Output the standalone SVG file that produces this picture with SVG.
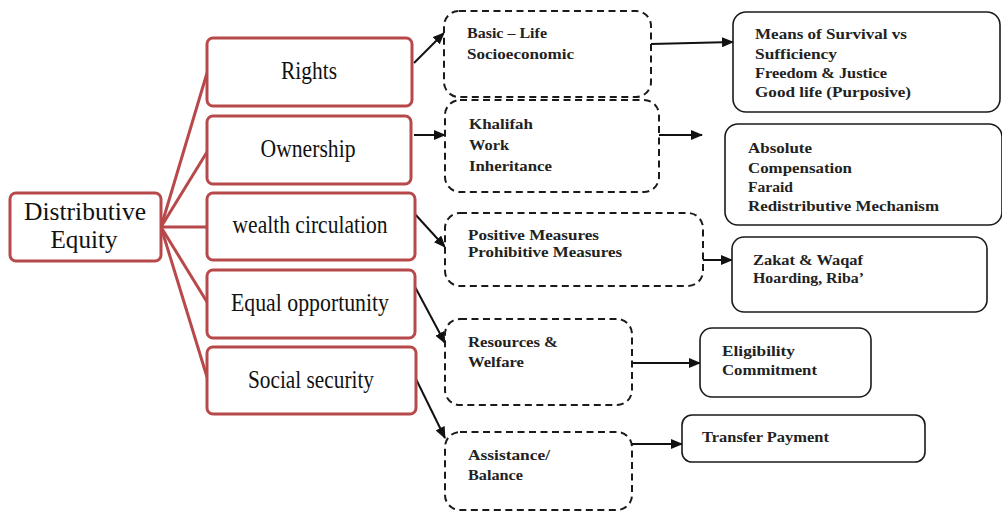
<svg xmlns="http://www.w3.org/2000/svg" width="1002" height="511" viewBox="0 0 1002 511">
<defs>
<style>
.red{fill:#fff;stroke:#b8494a;stroke-width:3}
.dash{fill:#fff;stroke:#1a1a1a;stroke-width:2;stroke-dasharray:7 4.5}
.solid{fill:#fff;stroke:#1a1a1a;stroke-width:1.6}
.rt{font-family:"Liberation Serif",serif;font-size:25px;fill:#111}
.bt{font-family:"Liberation Serif",serif;font-size:15px;font-weight:bold;fill:#222}
.rl{stroke:#b8494a;stroke-width:3;fill:none}
.ar{stroke:#111;stroke-width:2;fill:none;marker-end:url(#ah)}
</style>
<marker id="ah" markerWidth="12" markerHeight="10" refX="11" refY="5" orient="auto" markerUnits="userSpaceOnUse">
<path d="M0,0 L12,5 L0,10 Z" fill="#111"/>
</marker>
</defs>
<rect width="1002" height="511" fill="#fff"/>
<g id="connectors">
<path class="rl" d="M161,227 L207,73"/>
<path class="rl" d="M161,227 L207,152"/>
<path class="rl" d="M161,227 L207,227"/>
<path class="rl" d="M161,227 L207,302"/>
<path class="rl" d="M161,227 L207,377"/>
<path class="ar" d="M414,63 L444,33"/>
<path class="ar" d="M651,44 L733,42"/>
<path class="ar" d="M414,135 L445,135"/>
<path class="ar" d="M659,135 L702,135"/>
<path class="ar" d="M414,213 L445,247"/>
<path class="ar" d="M703,260 L732,260"/>
<path class="ar" d="M414,285 L445,343"/>
<path class="ar" d="M632,363 L700,363"/>
<path class="ar" d="M415,377 L445,438"/>
<path class="ar" d="M632,444 L682,444"/>
</g>
<g id="n-distributive">
<rect class="red" x="10" y="193" width="151" height="68" rx="6"/>
<text class="rt" x="85" y="220" text-anchor="middle" textLength="122" lengthAdjust="spacingAndGlyphs">Distributive</text>
<text class="rt" x="84" y="248" text-anchor="middle" textLength="67" lengthAdjust="spacingAndGlyphs">Equity</text>
</g>
<g id="n-rights">
<rect class="red" x="207" y="38" width="205" height="68" rx="6"/>
<text class="rt" x="309" y="79" text-anchor="middle" textLength="56" lengthAdjust="spacingAndGlyphs">Rights</text>
</g>
<g id="n-ownership">
<rect class="red" x="207" y="116" width="204" height="68" rx="6"/>
<text class="rt" x="308" y="157" text-anchor="middle" textLength="95" lengthAdjust="spacingAndGlyphs">Ownership</text>
</g>
<g id="n-wealth">
<rect class="red" x="207" y="193" width="208" height="67" rx="6"/>
<text class="rt" x="310" y="233" text-anchor="middle" textLength="155" lengthAdjust="spacingAndGlyphs">wealth circulation</text>
</g>
<g id="n-equal">
<rect class="red" x="207" y="270" width="208" height="68" rx="6"/>
<text class="rt" x="310" y="311" text-anchor="middle" textLength="158" lengthAdjust="spacingAndGlyphs">Equal opportunity</text>
</g>
<g id="n-social">
<rect class="red" x="207" y="347" width="209" height="67" rx="6"/>
<text class="rt" x="311" y="388" text-anchor="middle" textLength="126" lengthAdjust="spacingAndGlyphs">Social security</text>
</g>
<g id="n-basic">
<rect class="dash" x="444" y="11" width="207" height="86" rx="15"/>
<text class="bt" x="467" y="38" textLength="80" lengthAdjust="spacingAndGlyphs">Basic – Life</text>
<text class="bt" x="467" y="59" textLength="107" lengthAdjust="spacingAndGlyphs">Socioeconomic</text>
</g>
<g id="n-khalifah">
<rect class="dash" x="445" y="100" width="214" height="92" rx="15"/>
<text class="bt" x="469" y="129" textLength="64" lengthAdjust="spacingAndGlyphs">Khalifah</text>
<text class="bt" x="469" y="150" textLength="40" lengthAdjust="spacingAndGlyphs">Work</text>
<text class="bt" x="469" y="171" textLength="83" lengthAdjust="spacingAndGlyphs">Inheritance</text>
</g>
<g id="n-positive">
<rect class="dash" x="445" y="213" width="258" height="73" rx="15"/>
<text class="bt" x="468" y="240" textLength="131" lengthAdjust="spacingAndGlyphs">Positive Measures</text>
<text class="bt" x="468" y="257" textLength="154" lengthAdjust="spacingAndGlyphs">Prohibitive Measures</text>
</g>
<g id="n-resources">
<rect class="dash" x="445" y="319" width="187" height="86" rx="15"/>
<text class="bt" x="468" y="347" textLength="90" lengthAdjust="spacingAndGlyphs">Resources &amp;</text>
<text class="bt" x="468" y="367" textLength="56" lengthAdjust="spacingAndGlyphs">Welfare</text>
</g>
<g id="n-assistance">
<rect class="dash" x="445" y="432" width="187" height="78" rx="15"/>
<text class="bt" x="468" y="460" textLength="82" lengthAdjust="spacingAndGlyphs">Assistance/</text>
<text class="bt" x="468" y="480" textLength="55" lengthAdjust="spacingAndGlyphs">Balance</text>
</g>
<g id="n-means">
<rect class="solid" x="733" y="12" width="267" height="100" rx="13"/>
<text class="bt" x="755" y="39" textLength="152" lengthAdjust="spacingAndGlyphs">Means of Survival vs</text>
<text class="bt" x="755" y="59" textLength="82" lengthAdjust="spacingAndGlyphs">Sufficiency</text>
<text class="bt" x="755" y="78" textLength="132" lengthAdjust="spacingAndGlyphs">Freedom &amp; Justice</text>
<text class="bt" x="755" y="97" textLength="156" lengthAdjust="spacingAndGlyphs">Good life (Purposive)</text>
</g>
<g id="n-absolute">
<rect class="solid" x="725" y="124" width="277" height="101" rx="13"/>
<text class="bt" x="748" y="153" textLength="64" lengthAdjust="spacingAndGlyphs">Absolute</text>
<text class="bt" x="748" y="173" textLength="104" lengthAdjust="spacingAndGlyphs">Compensation</text>
<text class="bt" x="748" y="192" textLength="45" lengthAdjust="spacingAndGlyphs">Faraid</text>
<text class="bt" x="748" y="211" textLength="191" lengthAdjust="spacingAndGlyphs">Redistributive Mechanism</text>
</g>
<g id="n-zakat">
<rect class="solid" x="732" y="237" width="255" height="75" rx="12"/>
<text class="bt" x="753" y="265" textLength="110" lengthAdjust="spacingAndGlyphs">Zakat &amp; Waqaf</text>
<text class="bt" x="753" y="283" textLength="111" lengthAdjust="spacingAndGlyphs">Hoarding, Riba’</text>
</g>
<g id="n-eligibility">
<rect class="solid" x="700" y="328" width="171" height="69" rx="12"/>
<text class="bt" x="722" y="356" textLength="73" lengthAdjust="spacingAndGlyphs">Eligibility</text>
<text class="bt" x="722" y="375" textLength="95" lengthAdjust="spacingAndGlyphs">Commitment</text>
</g>
<g id="n-transfer">
<rect class="solid" x="682" y="415" width="243" height="47" rx="10"/>
<text class="bt" x="702" y="442" textLength="127" lengthAdjust="spacingAndGlyphs">Transfer Payment</text>
</g>
</svg>
